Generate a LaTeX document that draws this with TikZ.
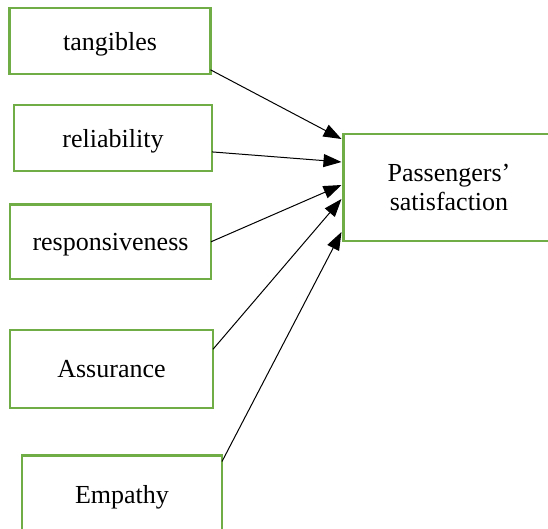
\documentclass[tikz,border=0pt]{standalone}
\usepackage{fontspec}
\setmainfont{Liberation Serif}
\usetikzlibrary{arrows.meta,calc}
\definecolor{boxgreen}{HTML}{70AD47}
\tikzset{
  factor/.style={draw=boxgreen, line width=1.1pt, outer sep=0pt, inner sep=0pt,
    text depth=0pt, font=\fontsize{13}{14.2}\selectfont, align=center},
  link/.style={-{Triangle[length=9pt,width=6.5pt]}, line width=0.5pt}
}

\begin{document}
\begin{tikzpicture}[x=0.5pt,y=-0.5pt]
			%%%%% START %%%%%
			\useasboundingbox (0,0) rectangle (548,529);
			\clip (0,0) rectangle (548,529);
			
			\node[factor, minimum width=100.5pt, minimum height=33pt] (tang) at (110,41) {tangibles};
			\node[factor, minimum width=99pt, minimum height=33pt] (rel) at (113,138) {reliability};
			\node[factor, minimum width=100.5pt, minimum height=37.2pt] (resp) at (110.5,241.8) {responsiveness};
			\node[factor, minimum width=101.5pt, minimum height=39pt] (assur) at (111.5,369) {Assurance};
			\node[factor, minimum width=100pt, minimum height=38.5pt] (emp) at (122,494) {Empathy};
			
			\node[factor, minimum width=105.5pt, minimum height=53.2pt] (sat) at (449,187.5) {Passengers’\\satisfaction};
			
			\draw[link] (tang.-16) -- ($(sat.west)+(-2,-48.5)$);
			\draw[link] (rel.-8) -- ($(sat.west)+(-2,-25.5)$);
			\draw[link] (resp.east) -- ($(sat.west)+(-2,-2.5)$);
			\draw[link] (assur.11) -- ($(sat.west)+(-2,11.5)$);
			\draw[link] (emp.18) -- ($(sat.west)+(-2,44.5)$);
			
			%%%%% END %%%%%
		\end{tikzpicture}
\end{document}
